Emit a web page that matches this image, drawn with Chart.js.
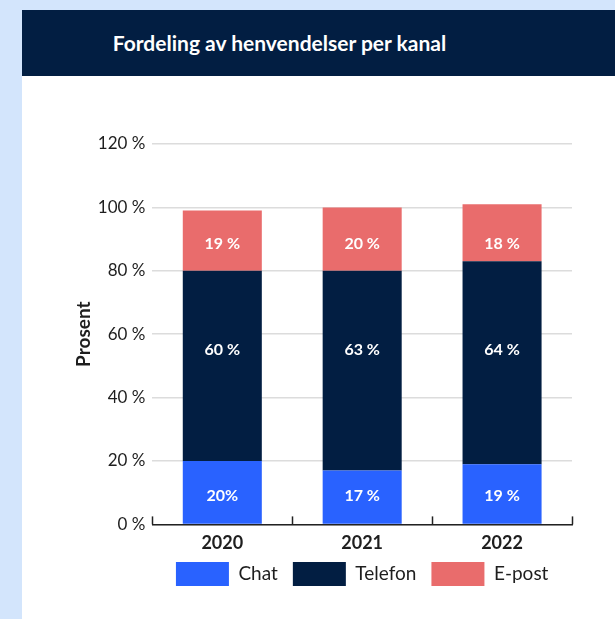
<!DOCTYPE html>
<html>
<head>
<meta charset="utf-8">
<script src="https://cdn.jsdelivr.net/npm/chart.js@4"></script>
<style>
  html, body { margin: 0; padding: 0; width: 615px; height: 619px; overflow: hidden; background: #d3e5fc; }
  #panel { position: absolute; left: 22px; top: 10px; width: 593px; height: 609px; background: #fff; }
  #header {
    height: 66px; background: #021e42; color: #fff;
    font: 700 21px Lato, sans-serif; line-height: 66px;
    text-align: center; padding-right: 78px;
  }
  #wrap { position: absolute; left: 0; top: 66px; width: 593px; height: 543px; }
</style>
</head>
<body>
<div id="panel">
  <div id="header">Fordeling av henvendelser per kanal</div>
  <div id="wrap"><canvas id="myChart"></canvas></div>
</div>
<script>
// ***** Data *****
const categories = ['2020', '2021', '2022'];
const chatValues = [20, 17, 19];
const telefonValues = [60, 63, 64];
const epostValues = [19, 20, 18];
const chatLabels = ['20%', '17 %', '19 %'];
const telefonLabels = ['60 %', '63 %', '64 %'];
const epostLabels = ['19 %', '20 %', '18 %'];
const seriesNames = ['Chat', 'Telefon', 'E-post'];
// value (in %) where each series' labels sit, same for all years
const labelAnchors = [9, 55, 88.5];
const yMax = 120;
const yStep = 20;

const fontFamily = 'Lato, sans-serif';
const textColor = '#1e1e1e';
const legendLift = 15;

// Labels inside each bar segment
const segmentLabels = {
  id: 'segmentLabels',
  afterDatasetsDraw(chart) {
    const ctx = chart.ctx;
    const y = chart.scales.y;
    ctx.save();
    ctx.fillStyle = '#fff';
    ctx.font = '700 16px ' + fontFamily;
    ctx.textAlign = 'center';
    ctx.textBaseline = 'middle';
    chart.data.datasets.forEach((ds, i) => {
      const py = y.getPixelForValue(labelAnchors[i]);
      chart.getDatasetMeta(i).data.forEach((bar, j) => {
        ctx.fillText(ds.segLabels[j], bar.x, py);
      });
    });
    ctx.restore();
  }
};

// Small upward ticks on the x axis between categories
const xAxisTicks = {
  id: 'xAxisTicks',
  afterDraw(chart) {
    const x = chart.scales.x;
    const ctx = chart.ctx;
    const bottom = chart.chartArea.bottom;
    const step = x.getPixelForValue(1) - x.getPixelForValue(0);
    ctx.save();
    ctx.strokeStyle = '#222';
    ctx.lineWidth = 1.5;
    for (let i = 0; i <= categories.length; i++) {
      const px = Math.round(x.getPixelForValue(i) - step / 2) + 0.5;
      ctx.beginPath();
      ctx.moveTo(px, bottom - 8);
      ctx.lineTo(px, bottom);
      ctx.stroke();
    }
    ctx.restore();
  }
};

// Pull the legend a bit closer to the x labels
const legendCloser = {
  id: 'legendCloser',
  afterLayout(chart) {
    chart.legend.top -= legendLift;
    chart.legend.bottom -= legendLift;
  }
};

const data = {
  labels: categories,
  datasets: [
    { label: seriesNames[0], data: chatValues, segLabels: chatLabels, backgroundColor: '#2962ff' },
    { label: seriesNames[1], data: telefonValues, segLabels: telefonLabels, backgroundColor: '#021e42' },
    { label: seriesNames[2], data: epostValues, segLabels: epostLabels, backgroundColor: '#e96c6c' }
  ]
};

const configChart = {
  type: 'bar',
  data: data,
  options: {
    responsive: true,
    maintainAspectRatio: false,
    animation: false,
    categoryPercentage: 1,
    barPercentage: 0.565,
    layout: { padding: { top: 68, right: 43, left: 50, bottom: 8 } },
    plugins: {
      tooltip: { enabled: false },
      legend: {
        position: 'bottom',
        fullSize: false,
        labels: {
          boxWidth: 53,
          boxHeight: 24,
          padding: 15,
          color: textColor,
          font: { family: fontFamily, size: 19 }
        }
      }
    },
    scales: {
      x: {
        stacked: true,
        grid: { display: false, drawTicks: false },
        border: { color: '#222', width: 1.5 },
        ticks: { color: textColor, padding: 8, font: { family: fontFamily, size: 18, weight: '700' } }
      },
      y: {
        stacked: true,
        min: 0,
        max: yMax,
        grid: { color: '#dcdcdc', lineWidth: 1.5, drawTicks: false },
        border: { display: false },
        title: {
          display: true,
          text: 'Prosent',
          color: textColor,
          padding: { top: 0, bottom: -4 },
          font: { family: fontFamily, size: 19, weight: '700' }
        },
        ticks: {
          stepSize: yStep,
          padding: 7,
          color: textColor,
          font: { family: fontFamily, size: 17 },
          callback: (v) => v + ' %'
        }
      }
    }
  },
  plugins: [segmentLabels, xAxisTicks, legendCloser]
};

const salesChart = new Chart(document.getElementById('myChart'), configChart);
</script>
</body>
</html>
